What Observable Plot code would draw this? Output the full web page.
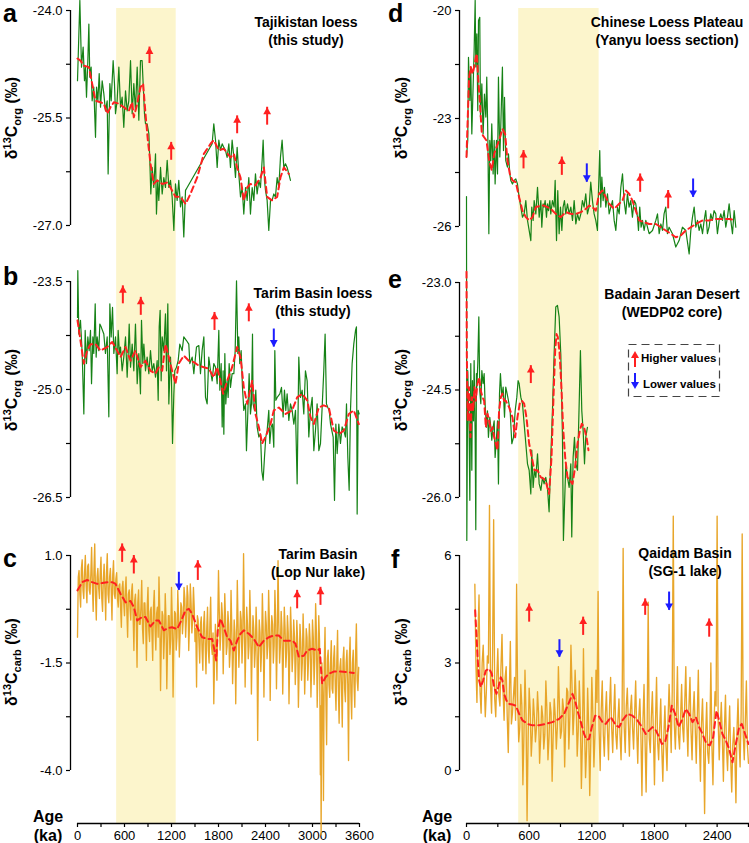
<!DOCTYPE html>
<html><head><meta charset="utf-8">
<script src="https://cdn.jsdelivr.net/npm/d3@7"></script>
<script src="https://cdn.jsdelivr.net/npm/@observablehq/plot@0.6"></script>
<style>
html,body{margin:0;padding:0;background:#fff;}
#fig{position:relative;width:749px;height:843px;overflow:hidden;font-family:"Liberation Sans",Arial,Helvetica,sans-serif;color:#000;}
#fig svg{position:absolute;top:0;}
.t{position:absolute;white-space:nowrap;}
</style></head><body><div id="fig"></div>
<script>
// ---------- data (age in ka, value in per mil) ----------
const bandLeft = [500, 1260];
const bandRight = [500, 1270];
const xTicksLeft = [0, 600, 1200, 1800, 2400, 3000, 3600];
const xMinorLeft = [0, 300, 600, 900, 1200, 1500, 1800, 2100, 2400, 2700, 3000, 3300, 3600];
const xTicksRight = [0, 600, 1200, 1800, 2400];
const xMinorRight = [0, 300, 600, 900, 1200, 1500, 1800, 2100, 2400, 2700];

// a: Tajikistan loess d13Corg
const aGreen = [[0,-24.98],[30,-23.86],[51,-24.79],[72,-24.51],[89,-24.98],[102,-24.79],[115,-25.21],[132,-24.70],[145,-24.19],[157,-24.93],[174,-24.79],[187,-25.26],[208,-25.07],[230,-25.77],[243,-25.07],[260,-25.26],[277,-24.88],[294,-25.35],[315,-24.98],[336,-25.16],[357,-25.40],[379,-25.26],[391,-26.28],[413,-25.02],[430,-25.26],[455,-24.70],[472,-25.02],[485,-25.44],[506,-25.26],[528,-24.79],[549,-25.35],[570,-25.21],[591,-25.63],[613,-25.12],[634,-25.40],[655,-25.26],[677,-24.70],[698,-25.44],[719,-25.02],[740,-25.40],[762,-24.79],[783,-25.53],[804,-24.70],[825,-24.70],[838,-25.02],[855,-25.44],[868,-25.58],[889,-25.58],[911,-25.72],[923,-26.09],[936,-26.56],[953,-26.19],[974,-26.47],[996,-26.00],[1008,-26.84],[1025,-26.37],[1038,-26.65],[1060,-26.19],[1081,-26.56],[1102,-26.33],[1123,-26.47],[1145,-26.09],[1166,-26.47],[1187,-26.37],[1208,-26.60],[1230,-27.07],[1251,-26.42],[1272,-26.65],[1293,-26.37],[1315,-26.74],[1336,-26.60],[1357,-27.16],[1379,-26.51],[1400,-26.47],[1719,-25.86],[1740,-25.58],[1762,-25.81],[1783,-26.19],[1804,-25.81],[1825,-25.95],[1847,-25.86],[1868,-25.91],[1889,-25.95],[1910,-26.05],[1932,-25.86],[1953,-26.19],[1974,-25.81],[1996,-26.05],[2017,-26.33],[2038,-25.91],[2059,-26.28],[2081,-26.60],[2102,-26.47],[2123,-26.84],[2145,-26.47],[2166,-26.65],[2187,-26.33],[2208,-26.84],[2230,-26.47],[2251,-26.65],[2272,-26.28],[2293,-26.56],[2315,-26.37],[2336,-26.47],[2357,-26.09],[2370,-25.81],[2387,-26.37],[2400,-26.51],[2421,-26.65],[2442,-27.07],[2464,-26.65],[2485,-26.65],[2506,-26.56],[2527,-26.60],[2549,-26.33],[2570,-26.47],[2591,-26.05],[2612,-25.81],[2634,-26.19],[2655,-26.14],[2676,-26.19],[2698,-26.28],[2719,-26.37]];
const aRed = [[0,-24.67],[38,-24.70],[81,-24.77],[145,-24.79],[187,-25.02],[230,-25.26],[294,-25.28],[336,-25.30],[379,-25.44],[421,-25.35],[464,-25.28],[528,-25.30],[591,-25.35],[655,-25.40],[698,-25.28],[719,-25.49],[762,-25.30],[804,-25.07],[838,-25.02],[868,-25.44],[898,-25.81],[932,-26.14],[974,-26.42],[1017,-26.37],[1081,-26.42],[1145,-26.40],[1187,-26.47],[1251,-26.60],[1315,-26.60],[1379,-26.70],[1442,-26.56],[1528,-26.33],[1613,-26.00],[1698,-25.86],[1740,-25.81],[1804,-25.95],[1868,-25.93],[1953,-26.05],[1996,-26.00],[2038,-26.19],[2081,-26.33],[2123,-26.65],[2166,-26.47],[2208,-26.42],[2272,-26.44],[2336,-26.33],[2379,-26.19],[2421,-26.60],[2485,-26.65],[2549,-26.60],[2591,-26.33],[2634,-26.19],[2698,-26.28]];
const aUp = [[919,-24.74,-24.51],[1196,-26.09,-25.84],[2038,-25.72,-25.47],[2421,-25.60,-25.35]];

// b: Tarim Basin loess d13Corg
const bGreen = [[0,-24.00],[4,-23.35],[17,-24.23],[38,-24.04],[60,-24.50],[81,-25.34],[98,-24.18],[115,-24.64],[132,-24.27],[149,-24.46],[166,-24.18],[179,-24.92],[196,-24.27],[208,-24.50],[226,-23.81],[238,-24.55],[251,-24.27],[272,-24.46],[285,-24.09],[302,-24.13],[336,-24.23],[357,-24.50],[379,-24.27],[400,-25.38],[413,-23.81],[430,-24.27],[447,-23.86],[464,-24.50],[485,-24.27],[506,-24.78],[519,-24.18],[536,-24.50],[549,-24.41],[570,-24.74],[591,-24.55],[613,-24.27],[634,-24.83],[647,-24.50],[660,-24.09],[677,-24.69],[698,-24.37],[719,-24.74],[740,-24.09],[762,-24.92],[783,-24.50],[804,-25.06],[817,-24.04],[834,-24.64],[847,-24.37],[868,-24.74],[889,-24.55],[911,-24.78],[932,-24.46],[953,-24.74],[974,-24.64],[996,-24.83],[1017,-24.60],[1030,-25.15],[1043,-24.13],[1055,-23.90],[1068,-24.88],[1081,-24.27],[1102,-24.46],[1123,-23.95],[1136,-24.74],[1153,-23.81],[1166,-25.20],[1187,-24.55],[1200,-24.88],[1213,-25.75],[1230,-25.06],[1242,-24.74],[1264,-24.69],[1285,-24.60],[1306,-24.37],[1336,-24.46],[1357,-24.27],[1391,-24.32],[1421,-24.37],[1434,-24.64],[1464,-24.55],[1485,-24.78],[1519,-24.41],[1549,-24.39],[1570,-24.78],[1591,-24.46],[1613,-24.27],[1634,-25.11],[1655,-25.20],[1676,-24.55],[1698,-24.74],[1719,-24.88],[1740,-24.64],[1762,-24.69],[1783,-24.92],[1804,-24.18],[1817,-25.01],[1834,-24.64],[1847,-25.52],[1859,-24.74],[1868,-25.62],[1881,-24.50],[1893,-25.20],[1910,-24.88],[1923,-25.11],[1936,-24.64],[1953,-24.97],[1974,-24.78],[1996,-24.78],[2013,-24.46],[2030,-23.49],[2047,-24.50],[2059,-24.27],[2072,-24.64],[2089,-24.46],[2106,-24.97],[2123,-25.29],[2145,-25.20],[2157,-25.85],[2174,-25.34],[2191,-24.78],[2208,-25.34],[2221,-25.20],[2234,-24.23],[2242,-25.20],[2259,-25.29],[2276,-25.01],[2293,-25.52],[2315,-25.66],[2336,-25.62],[2353,-26.13],[2370,-26.26],[2387,-25.94],[2404,-25.66],[2421,-25.57],[2442,-25.29],[2455,-25.75],[2472,-25.52],[2489,-25.48],[2506,-25.80],[2519,-24.46],[2532,-25.15],[2549,-25.11],[2583,-25.06],[2604,-24.97],[2625,-25.38],[2642,-25.01],[2659,-25.29],[2676,-25.06],[2698,-25.43],[2719,-25.20],[2740,-25.29],[2762,-25.48],[2783,-25.29],[2804,-26.31],[2825,-24.55],[2847,-25.11],[2868,-25.01],[2889,-25.34],[2910,-24.74],[2932,-24.88],[2953,-25.66],[2974,-25.29],[2996,-25.11],[3017,-25.85],[3038,-25.57],[3059,-25.20],[3081,-25.85],[3102,-25.75],[3123,-25.25],[3144,-24.74],[3161,-24.23],[3178,-25.20],[3196,-25.25],[3213,-25.29],[3230,-25.48],[3247,-25.57],[3264,-25.66],[3281,-26.54],[3298,-25.48],[3315,-25.89],[3336,-25.48],[3357,-25.75],[3378,-25.52],[3400,-25.57],[3421,-25.66],[3434,-25.20],[3451,-25.94],[3468,-26.40],[3485,-25.29],[3506,-24.64],[3527,-24.37],[3549,-24.18],[3561,-24.13],[3570,-26.73],[3583,-25.29],[3595,-25.34]];
const bRed = [[0,-24.04],[38,-24.32],[81,-24.64],[123,-24.46],[166,-24.37],[230,-24.37],[294,-24.46],[379,-24.41],[443,-24.34],[506,-24.46],[549,-24.55],[613,-24.41],[677,-24.60],[740,-24.46],[804,-24.69],[868,-24.60],[932,-24.74],[996,-24.78],[1038,-24.69],[1081,-24.74],[1123,-24.37],[1166,-24.55],[1208,-24.74],[1251,-24.92],[1293,-24.64],[1357,-24.53],[1421,-24.60],[1485,-24.62],[1549,-24.67],[1613,-24.69],[1676,-24.71],[1740,-24.83],[1783,-24.69],[1825,-24.88],[1859,-25.06],[1910,-24.88],[1974,-24.69],[2038,-24.41],[2081,-24.55],[2123,-24.97],[2166,-25.20],[2230,-24.88],[2272,-25.34],[2315,-25.52],[2357,-25.75],[2400,-25.66],[2464,-25.48],[2506,-25.29],[2570,-25.25],[2655,-25.34],[2740,-25.29],[2804,-25.11],[2868,-25.06],[2932,-25.15],[2974,-25.38],[3017,-25.48],[3081,-25.25],[3144,-25.22],[3208,-25.25],[3272,-25.57],[3336,-25.62],[3400,-25.57],[3464,-25.34],[3527,-25.29],[3591,-25.48]];
const bUp = [[579,-23.81,-23.56],[808,-23.97,-23.72],[1749,-24.18,-23.93],[2187,-24.06,-23.81]];
const bDown = [[2506,-24.16,-24.41]];

// c: Tarim Basin (Lop Nur lake) d13Ccarb — excursions and in-between core readings
const cOrange = [[0,-0.9],[20,0.65],[40,-0.2],[60,0.9],[80,0.0],[100,1.0],[120,-0.1],[140,0.8],[160,0.1],[180,1.19],[200,-0.3],[220,1.27],[240,-0.5],[260,0.7],[280,0.0],[300,0.96],[320,-0.3],[340,0.8],[360,-0.5],[380,1.04],[400,-0.1],[420,0.7],[440,-0.5],[460,0.88],[480,0.0],[500,0.6],[520,-0.2],[540,0.34],[560,-0.67],[580,0.4],[600,-0.4],[620,0.5],[640,-0.9],[660,0.2],[680,-0.5],[700,0.34],[720,-1.21],[740,0.1],[760,-1.6],[780,0.2],[800,-0.6],[820,0.42],[840,-1.05],[860,-0.1],[880,-1.44],[900,0.26],[920,-1.0],[940,-0.2],[960,-1.44],[980,0.19],[1000,-1.2],[1020,-0.2],[1040,0.5],[1060,-2.14],[1080,-0.3],[1100,-1.4],[1120,0.11],[1140,-2.1],[1160,-0.4],[1180,-1.3],[1200,0.26],[1220,-2.29],[1240,-0.3],[1260,-1.2],[1280,0.19],[1300,-1.36],[1320,-0.1],[1340,-0.82],[1360,0.26],[1380,-0.9],[1400,0.3],[1420,-1.21],[1440,0.34],[1460,-0.8],[1480,0.26],[1500,-1.0],[1520,-2.06],[1540,-0.5],[1560,-1.5],[1580,-0.43],[1600,-1.67],[1620,-0.3],[1640,-1.75],[1660,-0.2],[1680,-1.5],[1700,0.03],[1720,-1.3],[1740,-2.45],[1760,-0.6],[1780,-1.9],[1800,0.65],[1820,-1.2],[1840,-0.1],[1860,-1.75],[1880,0.11],[1900,-1.3],[1920,-0.3],[1940,-1.6],[1960,0.19],[1980,-1.98],[2000,-0.5],[2020,-2.45],[2040,0.42],[2060,-1.6],[2080,-0.3],[2100,-1.5],[2120,1.04],[2140,-2.06],[2160,-0.2],[2180,-1.4],[2200,0.19],[2220,-2.22],[2240,-0.4],[2260,-1.6],[2280,-0.2],[2300,-3.3],[2320,-0.5],[2340,-1.7],[2360,0.11],[2380,-2.29],[2400,-0.3],[2420,-1.4],[2440,0.19],[2460,-2.37],[2480,-0.4],[2500,-1.5],[2520,0.19],[2540,-2.1],[2560,0.88],[2580,-1.5],[2600,-0.3],[2620,-2.22],[2640,-0.2],[2660,-1.6],[2680,-0.4],[2700,-2.45],[2720,-0.2],[2740,-1.7],[2760,-0.5],[2780,-2.0],[2800,-0.51],[2820,-2.53],[2840,-0.6],[2860,-1.9],[2880,-0.36],[2900,-2.22],[2920,-0.7],[2940,-1.9],[2960,-0.59],[2980,-2.29],[3000,-0.5],[3020,-2.0],[3040,-0.12],[3060,-2.53],[3080,-0.4],[3100,-4.1],[3110,-5.5],[3120,-1.5],[3140,-4.7],[3160,-0.67],[3180,-3.4],[3200,-1.2],[3220,-2.3],[3240,-0.98],[3260,-2.2],[3280,-1.1],[3300,-2.6],[3320,-0.74],[3340,-2.9],[3360,-1.4],[3380,-2.99],[3400,-1.13],[3420,-2.4],[3440,-1.2],[3460,-3.77],[3480,-0.9],[3500,-2.8],[3520,-1.2],[3540,-2.53],[3560,-0.59],[3580,-2.14]];
const cOrangeCore = [[10,0.5],[30,0.1],[50,0.7],[70,0.2],[90,0.6],[110,0.3],[130,0.75],[150,0.2],[170,0.55],[190,0.3],[210,0.65],[230,0.1],[250,0.5],[270,0.25],[290,0.6],[310,0.0],[330,0.45],[350,0.2],[370,0.6],[390,0.1],[410,0.5],[430,0.2],[450,0.55],[470,0.1],[490,0.45],[510,0.0],[530,0.3],[550,-0.2],[570,0.25],[590,-0.1],[610,0.2],[630,-0.3],[650,0.1],[670,-0.2],[690,0.15],[710,-0.4],[730,-0.05],[750,-0.5],[770,-0.1],[790,-0.6],[810,-0.2],[830,-0.7],[850,-0.1],[870,-0.6],[890,-0.2],[910,-0.75],[930,-0.3],[950,-0.8],[970,-0.2],[990,-0.7],[1010,-0.35],[1030,-0.9],[1050,-0.3],[1070,-1.0],[1090,-0.4],[1110,-0.9],[1130,-0.5],[1150,-1.1],[1170,-0.4],[1190,-0.95],[1210,-0.5],[1230,-1.0],[1250,-0.35],[1270,-0.9],[1290,-0.4],[1310,-0.8],[1330,-0.2],[1350,-0.5],[1370,0.0],[1390,-0.5],[1410,0.05],[1430,-0.6],[1450,-0.1],[1470,-0.5],[1490,-0.2],[1510,-0.7],[1530,-0.4],[1550,-1.0],[1570,-0.6],[1590,-1.2],[1610,-0.6],[1630,-1.1],[1650,-0.7],[1670,-1.2],[1690,-0.6],[1710,-1.1],[1730,-0.8],[1750,-1.4],[1770,-1.0],[1790,-0.6],[1810,-0.3],[1830,-0.8],[1850,-0.4],[1870,-0.9],[1890,-0.5],[1910,-1.1],[1930,-0.6],[1950,-1.2],[1970,-0.7],[1990,-1.3],[2010,-0.8],[2030,-1.1],[2050,-0.6],[2070,-1.0],[2090,-0.5],[2110,-0.9],[2130,-0.5],[2150,-1.0],[2170,-0.6],[2190,-1.1],[2210,-0.6],[2230,-1.2],[2250,-0.7],[2270,-1.2],[2290,-0.8],[2310,-1.4],[2330,-0.8],[2350,-1.2],[2370,-0.7],[2390,-1.1],[2410,-0.6],[2430,-1.1],[2450,-0.6],[2470,-1.0],[2490,-0.6],[2510,-1.1],[2530,-0.5],[2550,-1.0],[2570,-0.6],[2590,-1.1],[2610,-0.7],[2630,-1.2],[2650,-0.7],[2670,-1.2],[2690,-0.8],[2710,-1.3],[2730,-0.8],[2750,-1.3],[2770,-0.9],[2790,-1.4],[2810,-1.0],[2830,-1.6],[2850,-1.0],[2870,-1.5],[2890,-1.0],[2910,-1.5],[2930,-0.9],[2950,-1.4],[2970,-1.0],[2990,-1.5],[3010,-0.9],[3030,-1.4],[3050,-0.8],[3070,-1.5],[3090,-1.0],[3105,-2.5],[3130,-2.2],[3150,-1.5],[3170,-2.2],[3190,-1.4],[3210,-2.0],[3230,-1.5],[3250,-2.1],[3270,-1.4],[3290,-2.0],[3310,-1.5],[3330,-2.1],[3350,-1.6],[3370,-2.0],[3390,-1.4],[3410,-2.1],[3430,-1.5],[3450,-2.0],[3470,-1.4],[3490,-2.2],[3510,-1.5],[3530,-2.0],[3550,-1.3],[3570,-1.9],[3590,-1.6]];
const cRed = [[0,0.19],[60,0.38],[123,0.43],[187,0.38],[251,0.34],[315,0.36],[379,0.38],[443,0.38],[485,0.34],[549,0.11],[613,-0.09],[677,-0.06],[719,-0.20],[762,-0.51],[825,-0.43],[868,-0.43],[932,-0.65],[996,-0.51],[1038,-0.51],[1102,-0.74],[1166,-0.68],[1208,-0.67],[1272,-0.71],[1315,-0.55],[1379,-0.28],[1421,-0.24],[1464,-0.36],[1528,-0.67],[1591,-0.90],[1655,-0.94],[1719,-0.94],[1749,-1.21],[1770,-1.44],[1791,-0.74],[1825,-0.47],[1868,-0.67],[1910,-0.90],[1953,-0.98],[1996,-1.21],[2038,-0.98],[2081,-0.82],[2123,-0.74],[2187,-0.82],[2251,-0.94],[2315,-1.13],[2379,-0.98],[2442,-0.90],[2506,-0.86],[2570,-0.86],[2634,-0.98],[2698,-0.98],[2740,-0.98],[2783,-1.05],[2825,-1.36],[2889,-1.33],[2932,-1.21],[2996,-1.17],[3059,-1.21],[3093,-1.17],[3110,-1.67],[3123,-1.98],[3166,-1.83],[3208,-1.75],[3272,-1.70],[3357,-1.70],[3442,-1.71],[3527,-1.73]];
const cUp = [[570,0.84,1.27],[719,0.57,1.0],[1536,0.42,0.88],[2804,-0.24,0.19],[3102,-0.16,0.26]];
const cDown = [[1294,0.61,0.19]];

// d: Chinese Loess Plateau (Yanyu) d13Corg
const dGreen = [[0,-24.07],[12,-23.61],[19,-21.30],[32,-22.50],[41,-21.57],[51,-23.43],[64,-22.04],[73,-21.11],[83,-19.72],[89,-21.57],[99,-20.65],[108,-22.78],[115,-20.28],[127,-20.19],[134,-22.96],[147,-22.04],[159,-23.43],[172,-22.32],[185,-22.96],[194,-21.85],[204,-23.43],[214,-26.20],[223,-23.61],[233,-24.17],[242,-23.15],[255,-24.54],[265,-23.61],[274,-24.82],[287,-23.61],[297,-24.54],[306,-21.85],[319,-24.07],[328,-23.24],[344,-21.57],[354,-23.89],[364,-22.41],[376,-24.17],[392,-24.35],[402,-23.98],[415,-24.54],[424,-24.72],[440,-24.82],[456,-24.72],[472,-24.68],[488,-24.82],[504,-25.19],[520,-25.46],[536,-25.74],[552,-25.65],[568,-25.28],[584,-25.83],[600,-26.11],[616,-26.39],[625,-25.46],[638,-25.83],[648,-25.28],[664,-25.65],[680,-24.91],[696,-25.74],[712,-25.28],[721,-26.02],[734,-25.37],[743,-25.46],[753,-25.28],[766,-25.74],[775,-25.37],[785,-25.56],[798,-25.28],[807,-25.65],[823,-25.28],[839,-25.46],[849,-24.72],[862,-26.39],[874,-25.00],[887,-26.20],[900,-25.46],[913,-26.11],[925,-25.46],[938,-25.28],[951,-25.65],[967,-25.37],[983,-25.65],[999,-25.46],[1015,-25.83],[1031,-25.28],[1047,-25.93],[1063,-25.65],[1079,-25.83],[1095,-25.65],[1110,-25.28],[1126,-25.46],[1142,-25.09],[1158,-25.65],[1174,-25.46],[1190,-24.77],[1206,-25.28],[1222,-25.65],[1238,-25.83],[1254,-26.11],[1263,-25.09],[1276,-23.89],[1286,-25.46],[1296,-24.63],[1308,-25.28],[1321,-24.91],[1334,-25.46],[1350,-25.09],[1366,-25.65],[1382,-25.46],[1398,-25.28],[1414,-25.83],[1430,-26.11],[1446,-25.46],[1462,-25.65],[1478,-24.91],[1494,-24.54],[1509,-25.28],[1525,-25.65],[1541,-25.09],[1557,-25.46],[1573,-25.28],[1589,-25.74],[1605,-25.28],[1621,-25.37],[1637,-25.74],[1647,-26.11],[1659,-25.46],[1672,-26.02],[1685,-25.83],[1701,-26.11],[1717,-25.83],[1733,-26.02],[1749,-26.20],[1781,-26.11],[1813,-25.83],[1829,-25.65],[1845,-26.20],[1861,-25.93],[1877,-26.11],[1892,-25.65],[1908,-25.46],[1924,-26.20],[1940,-26.02],[1972,-26.20],[2004,-26.57],[2036,-26.39],[2068,-26.02],[2100,-26.11],[2132,-26.76],[2148,-26.11],[2164,-25.74],[2180,-25.46],[2196,-26.02],[2212,-25.83],[2228,-26.11],[2244,-25.93],[2260,-26.20],[2276,-25.83],[2291,-25.56],[2307,-26.20],[2323,-26.02],[2339,-25.65],[2355,-25.83],[2371,-25.56],[2387,-25.65],[2403,-26.20],[2419,-25.83],[2435,-25.65],[2451,-25.83],[2467,-25.56],[2483,-26.02],[2499,-25.74],[2515,-25.37],[2531,-25.83],[2547,-26.20],[2563,-25.56],[2579,-26.02]];
const dRed = [[0,-24.07],[9,-23.24],[25,-21.85],[41,-21.57],[57,-21.76],[73,-21.57],[89,-21.30],[99,-21.20],[111,-21.85],[127,-22.50],[147,-23.43],[169,-23.52],[191,-23.61],[217,-24.17],[242,-24.44],[265,-23.98],[287,-23.80],[312,-23.61],[344,-23.29],[370,-23.43],[392,-24.17],[415,-24.54],[440,-24.72],[472,-24.77],[504,-25.19],[536,-25.56],[568,-25.74],[600,-25.83],[632,-25.74],[664,-25.46],[712,-25.42],[743,-25.42],[775,-25.46],[807,-25.51],[855,-25.65],[903,-25.74],[951,-25.60],[999,-25.65],[1047,-25.65],[1095,-25.60],[1142,-25.51],[1174,-25.42],[1206,-25.46],[1238,-25.56],[1270,-25.09],[1302,-25.00],[1334,-25.19],[1366,-25.37],[1414,-25.51],[1462,-25.37],[1494,-25.28],[1525,-25.00],[1557,-25.09],[1589,-25.28],[1621,-25.56],[1653,-25.83],[1701,-25.88],[1749,-25.93],[1813,-25.93],[1861,-26.02],[1908,-26.11],[1956,-26.20],[2004,-26.30],[2052,-26.25],[2100,-26.11],[2148,-26.02],[2196,-25.93],[2260,-25.83],[2323,-25.83],[2387,-25.79],[2451,-25.79],[2515,-25.79],[2579,-25.83]];
const dUp = [[546,-24.40,-23.89],[913,-24.58,-24.07],[1663,-25.05,-24.54],[1931,-25.51,-25.00]];
const dDown = [[1152,-24.26,-24.77],[2170,-24.68,-25.19]];

// e: Badain Jaran Desert (WEDP02 core) d13Corg
const eGreen = [[0,-21.8],[3,-26.6],[12,-24.23],[25,-25.07],[32,-26.04],[41,-24.13],[51,-25.62],[57,-24.37],[67,-24.93],[73,-24.09],[83,-25.16],[89,-26.45],[95,-24.27],[99,-24.46],[108,-24.13],[118,-23.48],[127,-24.51],[137,-24.69],[147,-24.23],[159,-24.41],[169,-24.27],[178,-24.69],[191,-25.02],[201,-24.79],[210,-25.16],[223,-24.88],[233,-25.02],[242,-25.20],[255,-25.02],[265,-24.93],[274,-25.44],[287,-25.16],[297,-24.93],[306,-25.81],[316,-24.55],[325,-24.27],[338,-24.60],[351,-24.46],[364,-24.88],[376,-24.46],[389,-24.55],[402,-24.65],[418,-24.79],[434,-25.25],[450,-25.16],[466,-24.79],[482,-24.60],[494,-24.37],[504,-24.41],[520,-24.60],[536,-24.69],[552,-24.97],[568,-25.25],[584,-25.53],[600,-25.62],[616,-25.95],[625,-25.34],[638,-25.86],[651,-25.62],[664,-25.72],[680,-25.39],[696,-25.81],[712,-25.90],[728,-25.72],[743,-25.81],[759,-25.72],[775,-25.86],[791,-26.2],[807,-25.44],[823,-24.79],[839,-24.00],[855,-23.34],[871,-23.32],[887,-23.48],[903,-24.00],[919,-25.16],[928,-26.6],[951,-25.53],[967,-25.72],[983,-25.86],[999,-25.53],[1008,-26.55],[1021,-25.44],[1034,-25.16],[1047,-25.53],[1063,-25.62],[1079,-24.69],[1091,-23.95],[1104,-24.79],[1117,-25.07],[1130,-25.53],[1142,-25.16],[1158,-25.02]];
const eRed = [[0,-22.85],[3,-24.00],[12,-24.93],[25,-24.46],[38,-25.16],[51,-24.60],[64,-24.79],[76,-24.46],[89,-24.65],[105,-24.41],[121,-24.32],[137,-24.51],[153,-24.60],[169,-24.65],[185,-25.02],[201,-24.83],[217,-24.93],[233,-25.07],[249,-25.02],[265,-25.16],[281,-25.25],[297,-25.34],[312,-24.79],[328,-24.60],[344,-24.55],[360,-24.65],[376,-24.65],[408,-24.74],[440,-24.88],[466,-25.16],[488,-24.88],[510,-24.69],[530,-24.65],[552,-24.69],[574,-24.88],[600,-25.25],[625,-25.44],[651,-25.62],[680,-25.62],[712,-25.72],[743,-25.74],[766,-25.81],[791,-25.95],[814,-25.44],[833,-24.60],[849,-23.95],[862,-23.72],[874,-23.76],[890,-23.95],[906,-24.37],[925,-25.02],[945,-25.44],[967,-25.72],[989,-25.76],[1015,-25.81],[1040,-25.58],[1063,-25.25],[1085,-25.07],[1104,-24.97],[1126,-25.02],[1149,-25.16],[1168,-25.34]];
const eUp = [[616,-24.41,-24.16]];

// f: Qaidam Basin (SG-1 lake) d13Ccarb — excursions and in-between core readings
const fOrange = [[80,5.2],[100,1.9],[120,4.9],[140,1.6],[160,3.5],[180,1.5],[200,3.2],[220,7.4],[240,1.6],[260,7.0],[280,1.5],[300,3.4],[320,1.8],[340,3.8],[360,1.4],[380,2.9],[400,0.5],[420,3.6],[440,1.6],[460,2.6],[480,5.2],[500,0.8],[520,2.4],[540,-0.4],[560,2.8],[580,-1.4],[600,2.3],[620,0.4],[640,2.0],[660,0.8],[680,2.2],[700,0.2],[720,1.8],[740,0.6],[760,2.5],[780,0.3],[800,1.9],[820,-0.3],[840,2.0],[860,0.6],[880,2.9],[900,0.9],[920,2.0],[940,0.1],[960,2.3],[980,0.6],[1000,3.5],[1020,1.0],[1040,2.8],[1060,0.4],[1080,2.5],[1100,-0.5],[1120,3.4],[1140,-0.2],[1160,2.3],[1180,-0.7],[1200,2.6],[1220,0.1],[1240,2.8],[1260,5.0],[1280,0.0],[1300,2.5],[1320,0.4],[1340,2.2],[1360,0.3],[1380,2.6],[1400,0.5],[1420,2.4],[1440,0.6],[1460,2.0],[1480,0.3],[1500,6.2],[1520,0.5],[1540,2.3],[1560,0.4],[1580,2.1],[1600,0.6],[1620,2.5],[1640,0.2],[1660,2.0],[1680,-0.7],[1700,2.4],[1720,-0.6],[1740,4.7],[1760,0.5],[1780,2.2],[1800,-0.4],[1820,2.6],[1840,0.3],[1860,2.0],[1880,-0.3],[1900,1.8],[1920,0.0],[1940,2.4],[1960,0.5],[1980,7.1],[2000,0.6],[2020,2.9],[2040,0.6],[2060,2.4],[2080,0.8],[2100,2.9],[2120,0.4],[2140,2.6],[2160,0.3],[2180,2.2],[2200,0.2],[2220,2.8],[2240,-0.3],[2260,2.0],[2280,-1.2],[2300,1.9],[2320,0.2],[2340,3.0],[2360,-0.4],[2380,2.2],[2400,7.1],[2420,0.3],[2440,1.9],[2460,-0.3],[2480,2.1],[2500,0.0],[2520,1.8],[2540,-0.6],[2560,1.2],[2580,-0.9],[2600,2.0],[2620,0.1],[2640,6.6],[2660,0.3],[2680,2.5],[2700,0.2]];
const fOrangeCore = [[90,3.0],[110,3.8],[130,2.2],[150,3.0],[170,2.5],[190,2.2],[210,3.0],[230,2.4],[250,3.3],[270,2.0],[290,2.6],[310,2.1],[330,2.9],[350,2.2],[370,2.6],[390,1.5],[410,2.2],[430,1.3],[450,2.1],[470,1.4],[490,2.0],[510,1.2],[530,1.8],[550,1.0],[570,1.6],[590,0.9],[610,1.7],[630,1.0],[650,1.5],[670,1.2],[690,1.6],[710,0.9],[730,1.5],[750,1.0],[770,1.7],[790,0.9],[810,1.6],[830,1.0],[850,1.5],[870,1.2],[890,1.8],[910,1.1],[930,1.7],[950,1.3],[970,2.2],[990,1.5],[1010,2.4],[1030,1.6],[1050,2.0],[1070,1.1],[1090,1.6],[1110,0.8],[1130,1.3],[1150,0.6],[1170,1.2],[1190,0.8],[1210,1.6],[1230,1.0],[1250,1.9],[1270,1.1],[1290,1.7],[1310,1.0],[1330,1.6],[1350,1.1],[1370,1.8],[1390,1.2],[1410,1.6],[1430,1.0],[1450,1.4],[1470,1.0],[1490,1.6],[1510,1.2],[1530,1.8],[1550,1.3],[1570,1.7],[1590,1.2],[1610,1.6],[1630,1.1],[1650,1.5],[1670,1.0],[1690,1.4],[1710,0.8],[1730,1.3],[1750,0.9],[1770,1.5],[1790,1.0],[1810,1.4],[1830,0.8],[1850,1.2],[1870,0.6],[1890,1.0],[1910,0.7],[1930,1.4],[1950,1.6],[1970,2.2],[1990,1.3],[2010,1.6],[2030,1.0],[2050,1.5],[2070,1.2],[2090,1.9],[2110,1.3],[2130,1.8],[2150,1.1],[2170,1.6],[2190,1.2],[2210,1.5],[2230,0.9],[2250,1.3],[2270,0.8],[2290,1.0],[2310,0.5],[2330,1.0],[2350,0.7],[2370,1.3],[2390,1.8],[2410,1.4],[2430,1.2],[2450,0.9],[2470,1.2],[2490,0.6],[2510,1.0],[2530,0.3],[2550,0.7],[2570,0.4],[2590,1.1],[2610,0.8],[2630,1.6],[2650,1.0],[2670,1.4],[2690,0.7]];
const fRed = [[83,4.47],[95,3.81],[108,3.07],[121,2.51],[137,2.33],[159,2.51],[185,2.79],[217,2.84],[242,2.70],[265,2.33],[287,2.14],[306,2.33],[328,2.60],[344,2.51],[360,2.14],[383,1.95],[408,1.86],[440,1.84],[472,1.81],[504,1.58],[536,1.40],[584,1.30],[632,1.26],[696,1.26],[759,1.30],[823,1.35],[887,1.44],[935,1.58],[983,1.91],[1015,2.14],[1040,1.95],[1063,1.67],[1095,1.35],[1126,1.02],[1149,0.86],[1174,0.88],[1200,1.21],[1232,1.53],[1263,1.53],[1302,1.35],[1334,1.30],[1382,1.49],[1430,1.26],[1462,1.21],[1494,1.40],[1541,1.58],[1589,1.53],[1637,1.40],[1669,1.26],[1717,1.02],[1749,1.12],[1781,1.21],[1813,1.12],[1845,0.93],[1870,0.74],[1902,0.79],[1934,1.21],[1966,1.81],[1998,1.58],[2030,1.21],[2062,1.40],[2100,1.72],[2132,1.58],[2164,1.35],[2196,1.49],[2228,1.21],[2260,1.02],[2298,0.74],[2330,0.70],[2362,0.93],[2394,1.67],[2419,1.40],[2451,1.02],[2483,0.84],[2515,0.60],[2547,0.23],[2579,0.74],[2611,1.21],[2636,1.30],[2668,1.02],[2700,0.74]];
const fUp = [[600,4.14,4.65],[1117,3.77,4.28],[1711,4.33,4.79],[2324,3.72,4.23]];
const fDown = [[890,3.65,3.16],[1940,4.98,4.47]];

// ---------- drawing ----------
const H = 843;
const FONT = "'Liberation Sans', Arial, Helvetica, sans-serif";
const GREEN = "#168216", ORANGE = "#e8a62a", RED = "#ff2020", BLUE = "#1c1cff", SHADE = "#fcf5cc";
const leftCol = {left: 0, width: 370, ml: 70, mr: 11, xdom: [0, 3600], xEnd: 3600};
const rightCol = {left: 380, width: 369, ml: 79, mr: 0, xdom: [0, 2710], xEnd: 2710};
const fig = document.getElementById("fig");
const baseStyle = {background: "transparent", overflow: "visible", fontFamily: FONT, fontSize: "13px", color: "black"};
const byAge = (a, b) => a[0] - b[0];
const cSeries = cOrange.concat(cOrangeCore).sort(byAge);
const fSeries = fOrange.concat(fOrangeCore).sort(byAge);

function place(svg, left) { svg.style.left = left + "px"; svg.style.top = "0px"; fig.appendChild(svg); }

const upSym = {draw(ctx, size) { const r = Math.sqrt(size / Math.PI); ctx.moveTo(0, 0); ctx.lineTo(r * 0.85, r * 1.5); ctx.lineTo(-r * 0.85, r * 1.5); ctx.closePath(); }};
const downSym = {draw(ctx, size) { const r = Math.sqrt(size / Math.PI); ctx.moveTo(0, 0); ctx.lineTo(r * 0.85, -r * 1.5); ctx.lineTo(-r * 0.85, -r * 1.5); ctx.closePath(); }};

function arrows(data, color, sym) {
  return [
    Plot.ruleX(data, {x: d => d[0], y1: d => d[1], y2: d => d[2], stroke: color, strokeWidth: 2}),
    Plot.dot(data, {x: d => d[0], y: d => d[2], symbol: sym, r: 4.6, fill: color, stroke: "none"})
  ];
}

function base(col, band, major, minor) {
  return Plot.plot({
    width: col.width, height: H, marginLeft: col.ml, marginRight: col.mr, marginTop: 8, marginBottom: 20,
    x: {domain: col.xdom, insetLeft: 7},
    y: {domain: [0, 1], axis: null},
    style: baseStyle,
    marks: [
      Plot.rect([band], {x1: d => d[0], x2: d => d[1], y1: 0, y2: 1, fill: SHADE}),
      Plot.ruleY([0], {x1: 0, x2: col.xEnd, stroke: "black", strokeWidth: 1.3}),
      Plot.axisX({ticks: minor, tickSize: 4, tickFormat: () => "", label: null, strokeWidth: 1.2}),
      Plot.axisX({ticks: major, tickSize: 0, tickPadding: 7, fontSize: 13, tickFormat: d => String(d), label: null})
    ]
  });
}

function panel(col, o) {
  return Plot.plot({
    width: col.width, height: H, marginLeft: col.ml, marginRight: col.mr,
    marginTop: o.top, marginBottom: H - o.bottom,
    x: {domain: col.xdom, insetLeft: 7, axis: null},
    y: {domain: o.ydom},
    style: baseStyle,
    marks: [
      Plot.ruleX([col.xdom[0]], {y1: o.ydom[0], y2: o.ydom[1], dx: -7, stroke: "black", strokeWidth: 1.3}),
      Plot.axisY({ticks: o.minor, tickSize: 4, tickFormat: () => "", label: null, strokeWidth: 1.2}),
      Plot.axisY({ticks: o.major, tickSize: 4, tickPadding: 4, fontSize: 13, tickFormat: o.fmt, label: null, strokeWidth: 1.2}),
      ...o.marks
    ]
  });
}

const f1 = d => d.toFixed(1), f0 = d => d.toFixed(0);
const line = (data, color, w) => Plot.line(data, {x: d => d[0], y: d => d[1], stroke: color, strokeWidth: w});
const dash = data => Plot.line(data, {x: d => d[0], y: d => d[1], stroke: RED, strokeWidth: 2, strokeDasharray: "6,4"});

place(base(leftCol, bandLeft, xTicksLeft, xMinorLeft), leftCol.left);
place(base(rightCol, bandRight, xTicksRight, xMinorRight), rightCol.left);

place(panel(leftCol, {top: 10, bottom: 225, ydom: [-27, -24], major: [-27, -25.5, -24], minor: [-26.25, -24.75], fmt: f1,
  marks: [line(aGreen, GREEN, 1.2), dash(aRed), ...arrows(aUp, RED, upSym)]}), leftCol.left);
place(panel(leftCol, {top: 281, bottom: 497, ydom: [-26.5, -23.5], major: [-26.5, -25, -23.5], minor: [-25.75, -24.25], fmt: f1,
  marks: [line(bGreen, GREEN, 1.2), dash(bRed), ...arrows(bUp, RED, upSym), ...arrows(bDown, BLUE, downSym)]}), leftCol.left);
place(panel(leftCol, {top: 555, bottom: 770, ydom: [-4, 1], major: [-4, -1.5, 1], minor: [-2.75, -0.25], fmt: f1,
  marks: [line(cSeries, ORANGE, 1.35), dash(cRed), ...arrows(cUp, RED, upSym), ...arrows(cDown, BLUE, downSym)]}), leftCol.left);

place(panel(rightCol, {top: 10, bottom: 226, ydom: [-26, -20], major: [-26, -23, -20], minor: [-24.5, -21.5], fmt: f0,
  marks: [line(dGreen, GREEN, 1.2), dash(dRed), ...arrows(dUp, RED, upSym), ...arrows(dDown, BLUE, downSym)]}), rightCol.left);
place(panel(rightCol, {top: 282, bottom: 497, ydom: [-26, -23], major: [-26, -24.5, -23], minor: [-25.25, -23.75], fmt: f1,
  marks: [line(eGreen, GREEN, 1.2), dash(eRed), ...arrows(eUp, RED, upSym)]}), rightCol.left);
place(panel(rightCol, {top: 555, bottom: 770, ydom: [0, 6], major: [0, 3, 6], minor: [1.5, 4.5], fmt: f0,
  marks: [line(fSeries, ORANGE, 1.35), dash(fRed), ...arrows(fUp, RED, upSym), ...arrows(fDown, BLUE, downSym)]}), rightCol.left);

// ---------- text overlays ----------
function txt(html, x, y, css) {
  const d = document.createElement("div");
  d.className = "t"; d.innerHTML = html;
  d.style.left = x + "px"; d.style.top = y + "px";
  Object.assign(d.style, css || {});
  fig.appendChild(d);
  return d;
}
const titleCss = {fontWeight: "bold", fontSize: "14px", lineHeight: "18px", textAlign: "center", transform: "translateX(-50%)"};
txt("Tajikistan loess<br>(this study)", 306, 13, titleCss);
txt("Tarim Basin loess<br>(this study)", 313, 284, titleCss);
txt("Tarim Basin<br>(Lop Nur lake)", 318, 545, titleCss);
txt("Chinese Loess Plateau<br>(Yanyu loess section)", 667, 13, titleCss);
txt("Badain Jaran Desert<br>(WEDP02 core)", 672, 285, titleCss);
txt("Qaidam Basin<br>(SG-1 lake)", 685, 544, titleCss);

const letterCss = {fontWeight: "bold", fontSize: "25px", lineHeight: "25px"};
txt("a", 3, 1, letterCss); txt("b", 3, 264, letterCss); txt("c", 3, 546, letterCss);
txt("d", 388, 1, letterCss); txt("e", 388, 267, letterCss); txt("f", 391, 547, letterCss);

const yCss = {fontWeight: "bold", fontSize: "16px", lineHeight: "18px", transform: "translate(-50%,-50%) rotate(-90deg)"};
const orgT = "&delta;<span style='font-size:11px;vertical-align:6px'>13</span>C<span style='font-size:11px;vertical-align:-4px'>org</span> (&permil;)";
const carbT = "&delta;<span style='font-size:11px;vertical-align:6px'>13</span>C<span style='font-size:11px;vertical-align:-4px'>carb</span> (&permil;)";
txt(orgT, 12, 118, yCss); txt(orgT, 12, 390, yCss); txt(carbT, 12, 662, yCss);
txt(orgT, 402, 118, yCss); txt(orgT, 402, 390, yCss); txt(carbT, 402, 662, yCss);

const ageCss = {fontWeight: "bold", fontSize: "16px", lineHeight: "19px", textAlign: "center", transform: "translateX(-50%)"};
txt("Age<br>(ka)", 48, 807, ageCss);
txt("Age<br>(ka)", 437, 807, ageCss);

// legend box in panel e
const NS = "http://www.w3.org/2000/svg";
const lg = document.createElementNS(NS, "svg");
lg.setAttribute("width", 749); lg.setAttribute("height", 843);
lg.style.left = "0px"; lg.style.top = "0px"; lg.style.pointerEvents = "none";
lg.innerHTML = `
 <rect x="628.5" y="344.5" width="91" height="52" fill="none" stroke="#444" stroke-width="1.2" stroke-dasharray="8,5"/>
 <line x1="635" y1="367" x2="635" y2="356" stroke="${RED}" stroke-width="2"/>
 <path d="M635,351 L639,358 L631,358 Z" fill="${RED}"/>
 <line x1="635" y1="373" x2="635" y2="384" stroke="${BLUE}" stroke-width="2"/>
 <path d="M635,389 L639,382 L631,382 Z" fill="${BLUE}"/>
 <text x="641" y="362" font-family="${FONT}" font-weight="bold" font-size="11.5">Higher values</text>
 <text x="643" y="388" font-family="${FONT}" font-weight="bold" font-size="11.5">Lower values</text>`;
fig.appendChild(lg);
</script></body></html>
